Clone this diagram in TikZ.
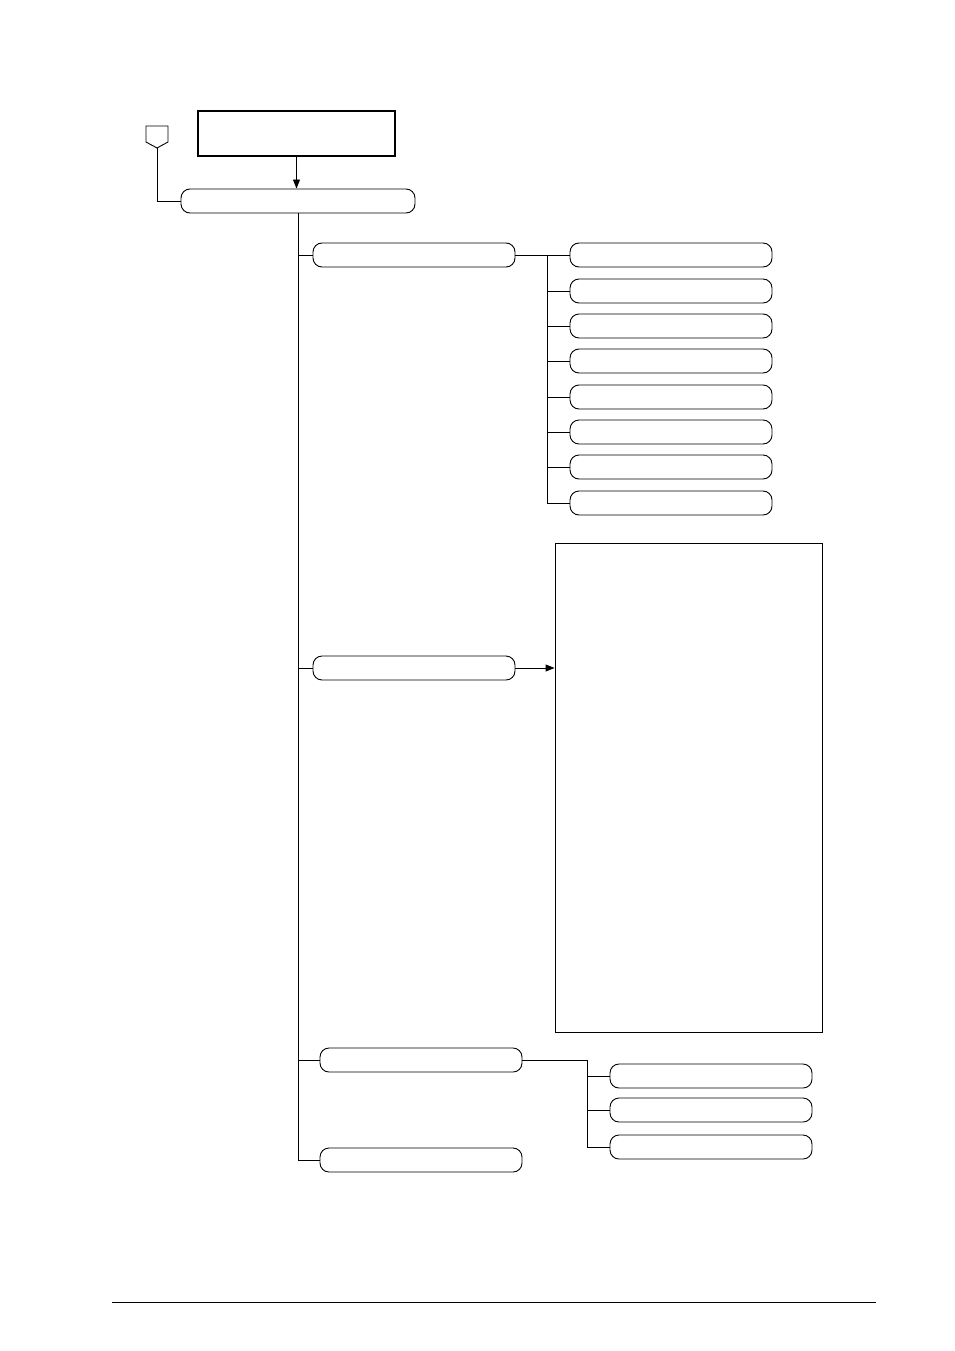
\documentclass[tikz,border=0pt]{standalone}
\usetikzlibrary{arrows.meta}

\begin{document}
\begin{tikzpicture}[x=1pt,y=-1pt,line width=0.9pt,
	term/.style={draw,rectangle,rounded corners=9pt,minimum width=202pt,minimum height=24pt,inner sep=0pt},
	>={Triangle[length=9pt,width=7pt]}]
			\useasboundingbox (0,0) rectangle (954,1351);
			\node[draw,rectangle,line width=1.6pt,minimum width=197pt,minimum height=45pt,inner sep=0pt] (T)at(296.5,133.5) {};
			\node[term,minimum width=234pt] (M)at(298,201) {};
			\node[term] (A)at(414,255) {};
			\node[term] (B)at(414,668) {};
			\node[term] (C)at(421,1060) {};
			\node[term] (D)at(421,1160) {};
			\node[term] (A1)at(671,255) {};
			\node[term] (A2)at(671,291) {};
			\node[term] (A3)at(671,326) {};
			\node[term] (A4)at(671,361) {};
			\node[term] (A5)at(671,397) {};
			\node[term] (A6)at(671,432) {};
			\node[term] (A7)at(671,467) {};
			\node[term] (A8)at(671,503) {};
			\node[draw,rectangle,minimum width=267pt,minimum height=489pt,inner sep=0pt] (X)at(688.5,787.5) {};
			\node[term] (C1)at(711,1076) {};
			\node[term] (C2)at(711,1110) {};
			\node[term] (C3)at(711,1147) {};
			\draw (146,126) -- (168,126) -- (168,142) -- (157,148) -- (146,142) -- cycle;
			\coordinate (P) at (157,148);
			\coordinate (a) at (547,255);
			\coordinate (c) at (587,1060);
			\draw[->] (T.south) -- (T.south |- M.north);
			\draw (P) |- (M.west);
			\draw (M.south) |- (D.west);
			\draw (M.south |- A.west) -- (A.west);
			\draw (M.south |- B.west) -- (B.west);
			\draw (M.south |- C.west) -- (C.west);
			\draw (A.east) -- (a) |- (A8.west);
			\draw (a) -- (A1.west);
			\draw (a |- A2.west) -- (A2.west);
			\draw (a |- A3.west) -- (A3.west);
			\draw (a |- A4.west) -- (A4.west);
			\draw (a |- A5.west) -- (A5.west);
			\draw (a |- A6.west) -- (A6.west);
			\draw (a |- A7.west) -- (A7.west);
			\draw[->] (B.east) -- (X.west |- B.east);
			\draw (C.east) -- (c) |- (C3.west);
			\draw (c |- C1.west) -- (C1.west);
			\draw (c |- C2.west) -- (C2.west);
			\coordinate (F1) at (112,1302);
			\coordinate (F2) at (876,1302);
			\draw (F1) -- (F2);
		\end{tikzpicture}
\end{document}
